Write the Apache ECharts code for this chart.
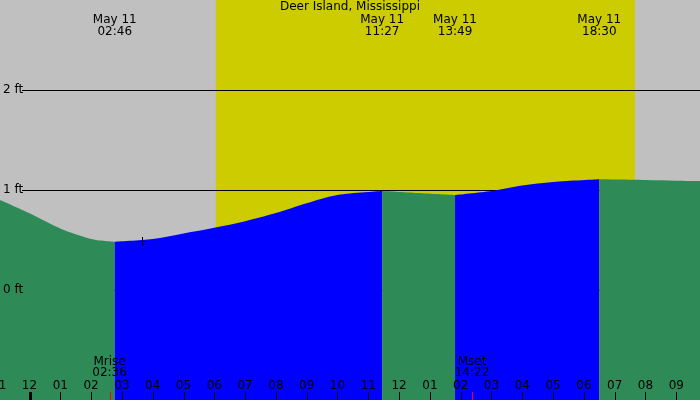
<!DOCTYPE html>
<html><head><meta charset="utf-8">
<script src="https://cdn.jsdelivr.net/npm/echarts@6/dist/echarts.min.js"></script>
<style>html,body{margin:0;padding:0;background:#c0c0c0}#c{width:700px;height:400px}</style>
</head><body><div id="c"></div>
<script>
// ---- data (hours relative to midnight, May 11) ----
const titleText = 'Deer Island, Mississippi';
const tideTimes   = [-0.958, 0, 1, 2, 2.767, 4, 5, 6, 7, 8, 9, 10, 11.45, 12.6, 13.817, 15, 16, 17, 18.5, 20, 21, 21.77];
const tideHeights = [0.90, 0.767, 0.615, 0.511, 0.483, 0.51, 0.565, 0.622, 0.688, 0.77, 0.868, 0.95, 0.99, 0.97, 0.95, 0.99, 1.045, 1.08, 1.107, 1.10, 1.093, 1.09];
const extremeTimes  = [2.767, 11.45, 13.817, 18.5];
const extremeDates  = ['May 11', 'May 11', 'May 11', 'May 11'];
const extremeClocks = ['02:46', '11:27', '13:49', '18:30'];
const sunTimes = [6.05, 19.66];
const moonTimes  = [2.6, 14.367];
const moonNames  = ['Mrise', 'Mset'];
const moonClocks = ['02:36', '14:22'];
const hourTicks = [-1, 0, 1, 2, 3, 4, 5, 6, 7, 8, 9, 10, 11, 12, 13, 14, 15, 16, 17, 18, 19, 20, 21];
const hourLabels = ['11', '12', '01', '02', '03', '04', '05', '06', '07', '08', '09', '10', '11', '12', '01', '02', '03', '04', '05', '06', '07', '08', '09'];
const levelValues = [0, 1, 2];
const levelLabels = ['0 ft', '1 ft', '2 ft'];
const nowPoint = [3.65, 0.493];

// ---- view settings ----
const X_MIN = -0.958, X_MAX = 21.77, Y_MIN = -1.1, Y_MAX = 2.9;
const FONT = '12px "DejaVu Sans"';
const C_DAY = '#cccc00', C_RISE = '#0000ff', C_FALL = '#2e8b57';

// split the tide curve into rising / falling pieces at the extremes
const segments = [];
let cur = [];
tideTimes.forEach((t, i) => {
  cur.push([t, tideHeights[i]]);
  if (extremeTimes.indexOf(t) >= 0) { segments.push(cur); cur = [[t, tideHeights[i]]]; }
});
if (cur.length > 1) segments.push(cur);

const areaSeries = segments.map(seg => ({
  type: 'line', data: seg, smooth: 0.3, symbol: 'none', silent: true,
  lineStyle: { width: 0 }, z: 2,
  areaStyle: { origin: 'start', opacity: 1, color: seg[seg.length - 1][1] > seg[0][1] ? C_RISE : C_FALL }
}));

const chart = echarts.init(document.getElementById('c'));
chart.setOption({
  animation: false,
  backgroundColor: '#c0c0c0',
  title: { text: titleText, left: 'center', top: 1, padding: 0,
    textStyle: { fontFamily: 'DejaVu Sans', fontSize: 12, fontWeight: 'normal', color: '#000' } },
  grid: { left: 0, right: 0, top: 0, bottom: 0 },
  xAxis: { type: 'value', min: X_MIN, max: X_MAX, show: false },
  yAxis: { type: 'value', min: Y_MIN, max: Y_MAX, show: false },
  series: [
    { // daylight band
      type: 'custom', z: 1, silent: true, data: [[sunTimes[0], sunTimes[1]]],
      renderItem: (p, api) => {
        const a = api.coord([api.value(0), Y_MAX]);
        const b = api.coord([api.value(1), Y_MIN]);
        return { type: 'rect', shape: { x: a[0], y: a[1], width: b[0] - a[0], height: b[1] - a[1] }, style: { fill: C_DAY } };
      }
    },
    { // level lines (behind the water)
      type: 'custom', z: 1, silent: true, data: levelValues.map(v => [X_MIN, v]),
      renderItem: (p, api) => {
        const a = api.coord([X_MIN, api.value(1)]);
        const b = api.coord([X_MAX, api.value(1)]);
        const y = Math.round(a[1]) + 0.5;
        return { type: 'line', z2: 10, shape: { x1: a[0] + 22, y1: y, x2: b[0], y2: y }, style: { stroke: '#000', lineWidth: 1 } };
      }
    },
    ...areaSeries,
    { // level labels
      type: 'custom', z: 5, silent: true, data: levelValues.map((v, i) => [X_MIN, v, i]),
      renderItem: (p, api) => {
        const a = api.coord([X_MIN, api.value(1)]);
        return { type: 'text', style: { text: levelLabels[api.value(2)], x: a[0] + 3, y: a[1], align: 'left', verticalAlign: 'middle', font: FONT, fill: '#000' } };
      }
    },
    { // extreme labels at top
      type: 'custom', z: 5, silent: true, data: extremeTimes.map((t, i) => [t, Y_MAX, i]),
      renderItem: (p, api) => {
        const a = api.coord([api.value(0), Y_MAX]);
        const i = api.value(2);
        return { type: 'group', children: [
          { type: 'text', style: { text: extremeDates[i], x: a[0], y: a[1] + 19.5, align: 'center', verticalAlign: 'middle', font: FONT, fill: '#000' } },
          { type: 'text', style: { text: extremeClocks[i], x: a[0], y: a[1] + 31.5, align: 'center', verticalAlign: 'middle', font: FONT, fill: '#000' } }
        ] };
      }
    },
    { // hour ticks and labels
      type: 'custom', z: 5, silent: true, clip: false, data: hourTicks.map((h, i) => [h, Y_MIN, i]),
      renderItem: (p, api) => {
        const h = api.value(0);
        const a = api.coord([h, Y_MIN]);
        const x = Math.round(a[0]) + 0.5;
        const mid = h % 24 === 0;
        return { type: 'group', children: [
          { type: 'line', shape: { x1: x, y1: a[1] - 8, x2: x, y2: a[1] }, style: { stroke: '#000', lineWidth: mid ? 3 : 1 } },
          { type: 'text', style: { text: hourLabels[api.value(2)], x: a[0], y: a[1] - 14.5, align: 'center', verticalAlign: 'middle', font: FONT, fill: '#000' } }
        ] };
      }
    },
    { // moon rise / set
      type: 'custom', z: 5, silent: true, data: moonTimes.map((t, i) => [t, Y_MIN, i]),
      renderItem: (p, api) => {
        const a = api.coord([api.value(0), Y_MIN]);
        const i = api.value(2);
        const x = Math.round(a[0]) + 0.5;
        return { type: 'group', children: [
          { type: 'line', shape: { x1: x, y1: a[1] - 8, x2: x, y2: a[1] }, style: { stroke: '#ff0000', lineWidth: 1 } },
          { type: 'text', style: { text: moonNames[i], x: a[0], y: a[1] - 38.5, align: 'center', verticalAlign: 'middle', font: FONT, fill: '#000' } },
          { type: 'text', style: { text: moonClocks[i], x: a[0], y: a[1] - 27, align: 'center', verticalAlign: 'middle', font: FONT, fill: '#000' } }
        ] };
      }
    },
    { // current position marker
      type: 'custom', z: 5, silent: true, data: [nowPoint],
      renderItem: (p, api) => {
        const a = api.coord([api.value(0), api.value(1)]);
        const x = Math.round(a[0]) + 0.5, y = Math.round(a[1]) + 0.5;
        return { type: 'group', children: [
          { type: 'line', shape: { x1: x - 4.5, y1: y, x2: x + 4.5, y2: y }, style: { stroke: '#000', lineWidth: 1 } },
          { type: 'line', shape: { x1: x, y1: y - 4.5, x2: x, y2: y + 4.5 }, style: { stroke: '#000', lineWidth: 1 } }
        ] };
      }
    }
  ]
});
</script></body></html>
